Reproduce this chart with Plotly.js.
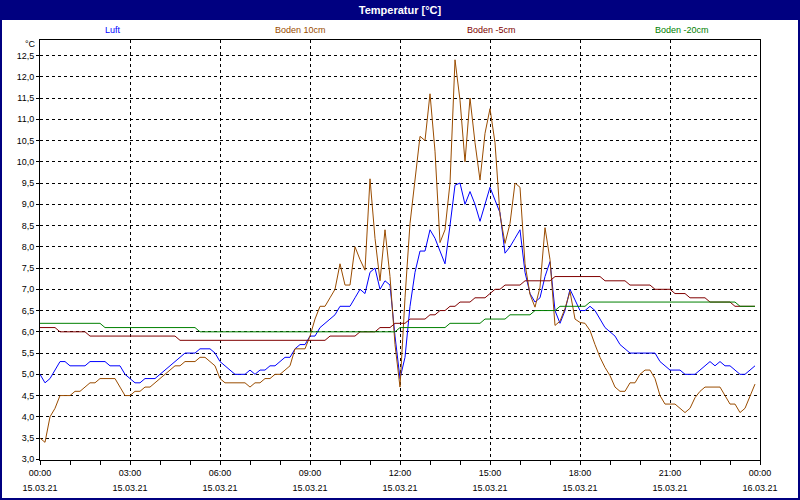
<!DOCTYPE html>
<html>
<head>
<meta charset="utf-8">
<script src="https://cdn.plot.ly/plotly-3.0.1.min.js"></script>
<style>
html,body{margin:0;padding:0;background:#fff;}
#chart{width:800px;height:500px;}
</style>
</head>
<body>
<div id="chart"></div>
<script>
// ---- data ----
const chartTitle = 'Temperatur [°C]';
const seriesNames = ['Luft', 'Boden 10cm', 'Boden -5cm', 'Boden -20cm'];
const seriesColors = ['#0000FF', '#9A4C00', '#800000', '#008000'];
const dayStart = '2021-03-15';
const dayEnd = '2021-03-16';
const stepMinutes = 10; // sampling interval of the logger

const luft = [
  5.0,4.8,4.9,5.1,5.3,5.3,5.2,5.2,5.2,5.2,
  5.3,5.3,5.3,5.3,5.2,5.2,5.2,5.0,4.9,4.8,
  4.8,4.9,4.9,4.9,5.0,5.1,5.2,5.3,5.4,5.5,
  5.5,5.5,5.6,5.6,5.6,5.5,5.3,5.2,5.1,5.0,
  5.0,5.0,5.1,5.0,5.1,5.1,5.2,5.2,5.3,5.4,
  5.4,5.6,5.7,5.7,5.9,5.9,6.1,6.2,6.3,6.4,
  6.6,6.6,6.6,6.8,7.0,6.9,7.4,7.5,7.0,7.2,
  7.1,5.9,4.9,5.4,6.6,7.4,7.9,7.9,8.4,8.2,
  7.9,7.6,8.5,9.45,9.5,9.0,9.3,9.0,8.6,9.0,
  9.4,9.1,8.8,7.85,8.0,8.2,8.4,7.4,6.9,6.7,
  6.8,7.3,7.65,6.5,6.2,6.5,7.0,6.75,6.5,6.5,
  6.6,6.5,6.3,6.1,6.0,5.9,5.7,5.6,5.5,5.5,
  5.5,5.5,5.5,5.5,5.3,5.2,5.1,5.1,5.1,5.0,
  5.0,5.0,5.1,5.2,5.3,5.2,5.3,5.2,5.2,5.1,
  5.0,5.0,5.1,5.2
];
const boden10 = [
  3.5,3.4,4.0,4.2,4.5,4.5,4.5,4.6,4.6,4.7,
  4.8,4.8,4.9,4.9,4.9,4.9,4.7,4.5,4.5,4.6,
  4.6,4.7,4.7,4.8,4.9,5.0,5.1,5.2,5.2,5.3,
  5.3,5.3,5.4,5.4,5.3,5.2,4.9,4.8,4.8,4.8,
  4.8,4.8,4.7,4.8,4.8,4.9,4.9,5.0,5.0,5.1,
  5.2,5.6,5.6,5.6,5.9,6.3,6.6,6.6,6.8,7.0,
  7.6,7.1,7.1,8.0,7.7,7.45,9.6,8.2,7.2,8.4,
  7.3,5.7,4.7,6.8,8.55,9.65,10.6,10.5,11.6,10.25,
  8.1,8.4,9.5,12.4,11.45,10.0,11.5,10.45,9.57,10.67,
  11.25,10.45,8.75,8.08,8.55,9.5,9.4,7.6,6.88,6.58,
  7.05,8.45,7.7,6.15,6.25,6.55,6.95,6.3,6.22,6.2,
  6.03,5.7,5.4,5.16,4.97,4.7,4.6,4.6,4.8,4.8,
  5.0,5.1,5.1,4.9,4.5,4.3,4.3,4.3,4.2,4.1,
  4.2,4.45,4.6,4.7,4.7,4.7,4.7,4.5,4.3,4.3,
  4.1,4.2,4.5,4.77
];
const bodenM5 = [
  6.1,6.1,6.1,6.1,6.0,6.0,6.0,6.0,6.0,6.0,
  5.9,5.9,5.9,5.9,5.9,5.9,5.9,5.9,5.9,5.9,
  5.9,5.9,5.9,5.9,5.9,5.9,5.9,5.9,5.8,5.8,
  5.8,5.8,5.8,5.8,5.8,5.8,5.8,5.8,5.8,5.8,
  5.8,5.8,5.8,5.8,5.8,5.8,5.8,5.8,5.8,5.8,
  5.8,5.8,5.8,5.8,5.8,5.8,5.8,5.8,5.9,5.9,
  5.9,5.9,5.9,5.9,6.0,6.0,6.0,6.0,6.1,6.1,
  6.1,6.2,6.2,6.2,6.3,6.3,6.3,6.3,6.4,6.4,
  6.5,6.5,6.6,6.6,6.7,6.7,6.7,6.8,6.8,6.8,
  6.9,7.0,7.0,7.1,7.1,7.1,7.1,7.2,7.2,7.2,
  7.2,7.2,7.2,7.3,7.3,7.3,7.3,7.3,7.3,7.3,
  7.3,7.3,7.3,7.2,7.2,7.2,7.2,7.2,7.1,7.1,
  7.1,7.1,7.1,7.0,7.0,7.0,7.0,6.9,6.9,6.9,
  6.8,6.8,6.8,6.8,6.7,6.7,6.7,6.7,6.7,6.6,
  6.6,6.6,6.6,6.6
];
const bodenM20 = [
  6.2,6.2,6.2,6.2,6.2,6.2,6.2,6.2,6.2,6.2,
  6.2,6.2,6.2,6.1,6.1,6.1,6.1,6.1,6.1,6.1,
  6.1,6.1,6.1,6.1,6.1,6.1,6.1,6.1,6.1,6.1,
  6.1,6.1,6.0,6.0,6.0,6.0,6.0,6.0,6.0,6.0,
  6.0,6.0,6.0,6.0,6.0,6.0,6.0,6.0,6.0,6.0,
  6.0,6.0,6.0,6.0,6.0,6.0,6.0,6.0,6.0,6.0,
  6.0,6.0,6.0,6.0,6.0,6.0,6.0,6.0,6.0,6.0,
  6.0,6.0,6.1,6.1,6.1,6.1,6.1,6.1,6.1,6.1,
  6.1,6.1,6.2,6.2,6.2,6.2,6.2,6.2,6.2,6.3,
  6.3,6.3,6.3,6.3,6.4,6.4,6.4,6.4,6.4,6.5,
  6.5,6.5,6.5,6.5,6.6,6.6,6.6,6.6,6.6,6.6,
  6.7,6.7,6.7,6.7,6.7,6.7,6.7,6.7,6.7,6.7,
  6.7,6.7,6.7,6.7,6.7,6.7,6.7,6.7,6.7,6.7,
  6.7,6.7,6.7,6.7,6.7,6.7,6.7,6.7,6.7,6.7,
  6.6,6.6,6.6,6.6
];
const yTickStart = 3.0;
const yTickStep = 0.5;
const xTickHours = 3;
const unitLabel = '°C';

// ---- sampling time grid ----
function pad(n){ return (n < 10 ? '0' : '') + n; }
const times = luft.map((_, i) => {
  const total = i * stepMinutes;
  return dayStart + ' ' + pad(Math.floor(total / 60)) + ':' + pad(total % 60);
});

const FONT = 'Liberation Sans, Arial, sans-serif';
const seriesData = [luft, boden10, bodenM5, bodenM20];

const traces = seriesData.map((vals, k) => ({
  type: 'scatter',
  mode: 'lines',
  name: seriesNames[k],
  x: times,
  y: vals,
  xaxis: k === 3 ? 'x2' : 'x',
  yaxis: 'y',
  line: {color: seriesColors[k], width: 1},
  hoverinfo: 'skip',
  showlegend: false
}));

// plot area geometry (pixels) used for placing decorations around it
const W = 800, H = 500, ML = 40, MR = 40, MT = 40, MB = 40;
const PW = W - ML - MR, PH = H - MT - MB;
const px = v => (v - ML) / PW;            // figure x pixel -> paper
const py = v => (H - MB - v) / PH;        // figure y pixel -> paper

const xRange = [dayStart + ' 00:00', dayEnd + ' 00:00'];
const tickFont = {family: FONT, size: 9, color: '#000'};

const legendPixelX = [113, 300, 491, 682];
const annotations = seriesNames.map((n, k) => ({
  xref: 'paper', yref: 'paper',
  x: px(legendPixelX[k]), y: py(30),
  xanchor: 'center', yanchor: 'middle',
  text: n, showarrow: false,
  font: {family: FONT, size: 9, color: seriesColors[k]}
}));
annotations.push({
  xref: 'paper', yref: 'paper',
  x: px(38), y: py(44),
  xanchor: 'right', yanchor: 'middle',
  text: unitLabel, showarrow: false,
  font: {family: FONT, size: 9, color: '#000'}
});

const layout = {
  width: W, height: H,
  margin: {l: ML, r: MR, t: MT, b: MB, pad: 0},
  paper_bgcolor: '#ffffff',
  plot_bgcolor: '#ffffff',
  separators: ',.',
  showlegend: false,
  title: {
    text: '<b>' + chartTitle + '</b>',
    font: {family: FONT, size: 11, color: '#ffffff'},
    x: 0.5, xanchor: 'center',
    y: 1 - 10 / H, yref: 'container', yanchor: 'middle'
  },
  xaxis: {
    type: 'date', range: xRange,
    tickmode: 'linear', tick0: xRange[0], dtick: xTickHours * 3600000,
    tickformat: '%H:%M',
    ticks: 'outside', ticklen: 4, tickwidth: 1, tickcolor: '#000',
    showline: true, linecolor: '#000', linewidth: 1, mirror: true,
    showgrid: true, gridcolor: '#000', gridwidth: 1, griddash: '3px,3px',
    zeroline: false,
    tickfont: tickFont,
    minor: {dtick: 3600000, ticks: 'outside', ticklen: 4, tickcolor: '#000', showgrid: false},
    fixedrange: true
  },
  xaxis2: {
    type: 'date', range: xRange, overlaying: 'x', anchor: 'y', side: 'bottom',
    tickmode: 'linear', tick0: xRange[0], dtick: xTickHours * 3600000,
    tickformat: '%d.%m.%y',
    ticks: '', showline: false, showgrid: false, zeroline: false,
    ticklabelstandoff: 21,
    tickfont: tickFont,
    fixedrange: true
  },
  yaxis: {
    range: [2.984, 12.866],
    tickmode: 'linear', tick0: yTickStart, dtick: yTickStep,
    tickformat: '.1f',
    ticks: 'outside', ticklen: 3, tickwidth: 1, tickcolor: '#000',
    showline: true, linecolor: '#000', linewidth: 1, mirror: true,
    showgrid: true, gridcolor: '#000', gridwidth: 1, griddash: '3px,3px',
    zeroline: false,
    tickfont: tickFont,
    fixedrange: true
  },
  shapes: [
    {type: 'rect', xref: 'paper', yref: 'paper', layer: 'below',
     x0: px(0), x1: px(W), y0: py(20), y1: py(0),
     fillcolor: '#000080', line: {width: 0}},
    {type: 'rect', xref: 'paper', yref: 'paper', layer: 'above',
     x0: px(1), x1: px(W - 1), y0: py(H - 1), y1: py(1),
     fillcolor: 'rgba(0,0,0,0)', line: {color: '#000080', width: 2}}
  ],
  annotations: annotations
};

Plotly.newPlot('chart', traces, layout, {staticPlot: true, displayModeBar: false});
</script>
</body>
</html>
